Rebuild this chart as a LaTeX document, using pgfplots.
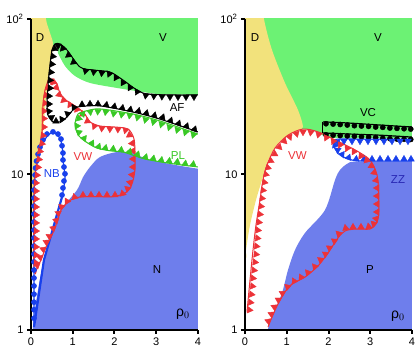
\documentclass[border=0pt]{standalone}
\usepackage{pgfplots}
\pgfplotsset{compat=1.18}
\usepackage{fontspec}
\setmainfont{Liberation Sans}

\definecolor{cgreen}{RGB}{108,242,116}
\definecolor{cyellow}{RGB}{242,226,124}
\definecolor{cblue}{RGB}{110,126,236}
\definecolor{tred}{RGB}{236,50,56}
\definecolor{tgreen}{RGB}{56,200,36}
\definecolor{tblue}{RGB}{24,64,236}
\definecolor{zzblue}{RGB}{40,40,180}

\tikzset{
  lab/.style={font=\fontsize{11.5}{13}\selectfont},
  bigl/.style={font=\fontsize{14}{14}\selectfont},
}
\pgfplotsset{
  mytrimk/.style={only marks, scatter, point meta=x, mark=triangle*, mark size=3.8pt,
    scatter/use mapped color={draw=#1, fill=#1},
    visualization depends on={value \thisrow{a} \as \myang},
    scatter/@pre marker code/.append style={/tikz/rotate=\myang, /tikz/yshift=1.9pt}},
  mycircmk/.style={only marks, mark=*, mark size=2.6pt, color=#1},
}

\begin{document}
\begin{tikzpicture}
\useasboundingbox (0,0) rectangle (416pt,355pt);

% ---------------- panel (a)
\begin{axis}[
    at={(31pt,25pt)}, anchor=south west,
    scale only axis, width=167pt, height=311pt,
    ymode=log, xmin=0, xmax=4, ymin=1, ymax=100,
    axis x line*=bottom, axis y line*=left,
    axis line style={line width=2.5pt},
    xtick={0,1,2,3,4}, ytick={1,10,100}, yticklabels={1,10,10\textsuperscript{2}},
    yminorticks=false,
    tick align=outside, major tick length=4pt,
    tick style={line width=2pt, black},
    /pgf/number format/assume math mode=true,
    ticklabel style={font=\fontsize{11}{12}\selectfont},
    axis on top]
\addplot[fill=cgreen, draw=none, smooth, tension=0.5] coordinates {
(-0.5,200) (-0.5,68.0) (0.551,68.0) (0.647,60.4) (0.814,49.9) (1.054,43.0) (1.413,38.8) (2.060,36.0) (2.683,33.9) (3.090,32.9) (4,32.5) (4.5,32.5) (4.5,200) (-0.5,200)};
\addplot[fill=cyellow, draw=none, smooth, tension=0.5] coordinates {
(-0.5,150) (0.30,150) (0.359,100) (0.431,85.0) (0.527,70.1) (0.503,58.7) (0.407,40.5) (0.335,26.0) (0.263,16.7) (0.168,12.4) (0.096,9.93) (0.048,6.85) (0.024,3.79) (0,2.82) (-0.5,2) (-0.5,150)};
\addplot[fill=cblue, draw=none, smooth, tension=0.5] coordinates {
(0.02,0.5) (4.5,0.5) (4.5,10.9) (4,10.9) (2.850,12.4) (2.443,13.75) (2.060,13.95) (1.653,12.96) (1.413,11.17) (1.245,9.6) (1.102,7.95) (0.766,6.18) (0.575,4.95) (0.335,3.03) (0.168,1.81) (0.048,1.045) (0.02,0.5)};

% NB (blue)
\addplot[tblue, line width=2.2pt] coordinates {(0.072,1.045) (0.31,2.82) (0.55,4.73) (0.743,7.17)};
\addplot[tblue, line width=1.2pt, smooth, tension=0.5] coordinates {
(0.527,18.8) (0.407,17.9) (0.287,15.9) (0.168,12.77) (0.096,9.93) (0.072,6.85) (0.072,3.27) (0.072,1.81) (0.072,1.08)};
\addplot[tblue, line width=1.2pt, smooth, tension=0.5] coordinates {
(0.743,7.17) (0.814,9.49) (0.766,12.4) (0.743,15.5) (0.647,17.9) (0.527,18.8)};
\addplot[mycircmk=tblue] table {
x y
0.527 18.8
0.383 18.2
0.287 16.7
0.216 15.0
0.168 13.5
0.132 12.2
0.108 11.0
0.096 9.93
0.084 8.95
0.072 7.95
0.072 7.06
0.072 6.27
0.072 5.57
0.072 4.95
0.072 4.40
0.072 3.91
0.072 3.47
0.072 3.08
0.072 2.74
0.072 2.43
0.072 2.16
0.072 1.92
0.072 1.70
0.072 1.51
0.072 1.35
0.072 1.19
0.647 18.2
0.719 16.9
0.743 15.3
0.766 13.75
0.766 12.4
0.790 11.17
0.814 10.1
0.790 9.08
0.766 8.19
0.743 7.38
};

% VW (red)
\addplot[tred, line width=1pt, smooth, tension=0.5] coordinates {
(0.407,39.9) (0.335,34.9) (0.287,28.0) (0.263,18.5) (0.168,13.3) (0.096,9.93) (0.065,6.85) (0.065,4.08) (0.065,2.7) (0.10,2.3) (0.144,2.5) (0.240,2.82) (0.359,3.42) (0.503,4.08) (0.623,4.95) (0.719,5.91) (0.886,6.66) (1.054,7.06) (1.293,7.2) (1.653,7.2) (1.964,7.2) (2.251,7.6) (2.41,8.56) (2.49,10.7) (2.49,14.4) (2.46,17.2) (2.323,19.6) (2.012,20.2) (1.653,20.5) (1.413,21.8) (1.269,24.9) (1.054,27.6) (0.838,30.1) (0.695,33.4) (0.623,38.2) (0.527,41.1) (0.407,39.9)};
\addplot[mytrimk=tred] table {
x y a
0.359 36.5 252
0.311 32.5 262
0.287 28.8 266
0.263 25.6 270
0.263 22.9 270
0.263 20.2 270
0.240 17.9 263
0.216 15.9 260
0.168 14.2 260
0.144 12.58 262
0.120 11.17 265
0.096 9.93 266
0.072 8.82 270
0.072 7.83 270
0.072 6.96 270
0.072 6.18 270
0.072 5.49 270
0.072 4.88 270
0.072 4.33 270
0.072 3.85 270
0.072 3.42 270
0.072 3.03 270
0.072 2.70 270
0.192 2.58 70
0.263 2.90 70
0.335 3.27 68
0.407 3.63 63
0.479 3.96 63
0.575 4.46 69
0.647 5.02 72
0.695 5.57 65
0.766 6.09 49
0.886 6.56 30
1.054 6.96 15
1.245 7.17 0
1.437 7.17 0
1.629 7.17 0
1.820 7.17 0
2.012 7.17 0
2.204 7.33 14
2.347 7.95 49
2.419 8.82 75
2.467 9.93 85
2.491 11.17 90
2.491 12.58 90
2.491 14.2 90
2.467 15.9 95
2.395 18.2 124
2.275 19.8 165
2.084 20.1 178
1.892 20.2 178
1.701 20.4 175
1.533 21.0 158
1.389 22.4 124
1.269 24.9 127
1.126 26.8 142
0.958 28.8 146
0.814 30.6 131
0.719 32.9 108
0.647 36.5 105
0.575 39.9 129
0.479 40.8 190
};

% AF (black)
\addplot[black, line width=1pt, smooth, tension=0.5] coordinates {
(4,32.5) (3.329,32.5) (2.683,33.4) (2.204,40.5) (1.892,45.6) (1.485,47.0) (1.174,49.1) (0.862,63.2) (0.695,69.1) (0.575,69.1) (0.503,63.2) (0.455,50.6) (0.407,37.6) (0.383,28.0) (0.407,24.1) (0.527,21.8) (0.695,21.8) (0.838,23.1) (0.982,25.6) (1.126,27.2) (1.653,27.6) (2.443,25.2) (3.090,22.7) (4,18.8)};
\addplot[mytrimk=black] table {
x y a
3.904 32.5 180
3.713 32.5 180
3.521 32.5 180
3.329 32.5 180
3.138 32.7 178
2.946 32.9 177
2.754 33.2 172
2.563 34.9 152
2.395 37.1 150
2.228 39.9 148
2.060 43.0 148
1.892 45.6 158
1.701 46.3 173
1.509 47.0 173
1.317 47.7 167
1.054 53.7 127
0.934 59.6 127
0.790 66.1 139
0.647 69.1 180
0.527 65.1 243
0.479 57.8 262
0.455 51.4 265
0.431 45.6 265
0.407 40.5 266
0.407 36.0 267
0.383 32.0 268
0.383 28.4 270
0.383 25.4 276
0.455 22.9 305
0.599 21.4 0
0.766 22.1 34
0.910 24.1 49
1.054 26.4 34
1.222 27.4 0
1.413 27.6 0
1.605 27.6 0
1.796 27.2 -10
1.988 26.6 -10
2.180 26.0 -10
2.371 25.4 -10
2.563 24.9 -14
2.754 24.1 -14
2.946 23.3 -14
3.138 22.7 -19
3.329 21.6 -19
3.521 20.7 -19
3.713 19.9 -19
3.904 19.0 -19
};

% PL (green)
\addplot[tgreen, line width=1pt, smooth, tension=0.5] coordinates {
(4,18.2) (3.090,22.1) (2.443,24.5) (1.653,26.4) (1.317,25.6) (1.126,24.5) (1.054,20.8) (1.150,17.7) (1.365,15.9) (1.581,14.8) (1.892,14.2) (2.204,13.95) (2.443,13.3) (2.731,12.58) (3.257,11.86) (4,11.17)};
\addplot[mytrimk=tgreen] table {
x y a
3.904 18.5 162
3.713 19.2 162
3.521 19.9 162
3.329 20.7 162
3.138 21.6 163
2.946 22.4 165
2.754 23.1 165
2.563 23.96 166
2.371 24.7 171
2.180 25.0 171
1.988 25.4 171
1.796 26.0 171
1.605 26.2 175
1.413 26.0 188
1.222 25.2 200
1.102 23.1 255
1.054 20.5 272
1.102 18.5 290
1.245 16.7 322
1.437 15.5 331
1.605 14.7 340
1.772 14.4 347
1.964 14.2 355
2.156 13.95 355
2.347 13.65 343
2.539 13.1 342
2.731 12.58 342
2.922 12.3 350
3.114 12.03 350
3.305 11.86 353
3.497 11.7 353
3.689 11.4 353
3.880 11.3 353
};

\node[lab] at (axis cs:0.216,75.5) {D};
\node[lab] at (axis cs:3.16,75.5) {V};
\node[lab] at (axis cs:3.50,26.8) {AF};
\node[lab, text=tgreen] at (axis cs:3.52,13.3) {PL};
\node[lab, text=tred] at (axis cs:1.245,12.96) {VW};
\node[lab, text=tblue] at (axis cs:0.50,10.2) {NB};
\node[lab] at (axis cs:3.02,2.43) {N};
\node[bigl] at (axis description cs:-0.096,0.942) {τ};
\node[bigl] at (axis description cs:0.91,0.05) {ρ$_0$};
\node[lab] at (axis description cs:0.515,1.036) {(a)};
\end{axis}

% ---------------- panel (b)
\begin{axis}[
    at={(245pt,25pt)}, anchor=south west,
    scale only axis, width=167pt, height=311pt,
    ymode=log, xmin=0, xmax=4, ymin=1, ymax=100,
    axis x line*=bottom, axis y line*=left,
    axis line style={line width=2.5pt},
    xtick={0,1,2,3,4}, ytick={1,10,100}, yticklabels={1,10,10\textsuperscript{2}},
    yminorticks=false,
    tick align=outside, major tick length=4pt,
    tick style={line width=2pt, black},
    /pgf/number format/assume math mode=true,
    ticklabel style={font=\fontsize{11}{12}\selectfont},
    axis on top]
\addplot[fill=cgreen, draw=none, smooth, tension=0.5] coordinates {
(-0.5,200) (4.5,200) (4.5,17.2) (4,17.2) (2.108,17.2) (1.749,18.8) (1.389,19.6) (0.5,19.6) (-0.5,19.6) (-0.5,200)};
\addplot[fill=cyellow, draw=none, smooth, tension=0.5] coordinates {
(-0.5,150) (0.40,150) (0.455,100) (0.647,63.2) (0.958,38.8) (1.269,26.0) (1.389,20.2) (1.269,19.3) (0.958,17.4) (0.719,15.0) (0.527,11.86) (0.407,9.22) (0.263,6.85) (0.120,4.73) (0.024,3.27) (0,2.82) (-0.5,2) (-0.5,150)};
\addplot[fill=cblue, draw=none, smooth, tension=0.5] coordinates {
(0.52,0.5) (4.5,0.5) (4.5,12.1) (4,12.1) (2.683,12.1) (2.467,11.8) (2.275,10.7) (2.156,9.22) (1.916,5.91) (1.437,4.21) (1.198,3.27) (1.030,2.43) (0.886,1.73) (0.647,1.21) (0.551,1) (0.52,0.5)};

% VC (black)
\addplot[black, line width=1pt] coordinates {(1.868,21.8) (1.868,18.5)};
\addplot[black, line width=1.2pt, smooth, tension=0.5] coordinates {
(1.868,21.8) (2.515,21.4) (3.234,20.8) (4,20.2)};
\addplot[black, line width=1.2pt, smooth, tension=0.5] coordinates {
(1.868,18.5) (2.515,18.2) (3.234,17.9) (4,17.4)};
\addplot[mycircmk=black] table {
x y
1.94 21.2
2.11 21.1
2.28 20.96
2.45 20.8
2.62 20.6
2.79 20.5
2.96 20.4
3.13 20.2
3.30 20.1
3.47 19.9
3.64 19.8
3.81 19.7
3.97 19.6
1.94 18.0
2.11 17.9
2.28 17.8
2.45 17.7
2.62 17.6
2.79 17.5
2.96 17.4
3.13 17.3
3.30 17.1
3.47 17.0
3.64 16.9
3.81 16.85
3.97 16.8
};

% ZZ (blue)
\addplot[tblue, line width=1pt, smooth, tension=0.5] coordinates {
(4,16.9) (3.473,16.9) (2.802,16.9) (2.228,16.9) (2.108,16.2) (2.156,14.6) (2.323,13.15) (2.563,12.4) (2.874,12.2) (3.473,12.2) (4,12.2)};
\addplot[mytrimk=tblue] table {
x y a
3.904 16.9 180
3.713 16.9 180
3.521 16.9 180
3.329 16.9 180
3.138 16.9 180
2.946 16.9 180
2.754 16.9 180
2.563 16.9 180
2.371 16.9 180
2.204 16.7 190
2.108 15.5 260
2.180 14.2 296
2.299 13.15 324
2.467 12.5 340
2.659 12.2 355
2.850 12.2 0
3.042 12.2 0
3.234 12.2 0
3.425 12.2 0
3.617 12.2 0
3.808 12.2 0
3.976 12.2 0
};

% VW (red)
\addplot[tred, line width=1pt, smooth, tension=0.5] coordinates {
(0.048,1.31) (0.120,2.10) (0.192,3.27) (0.263,4.73) (0.359,6.85) (0.431,9.22) (0.527,11.5) (0.719,14.8) (1.030,17.9) (1.389,19.6) (1.749,18.8) (2.156,16.7) (2.635,14.4) (2.994,12.4) (3.162,9.93) (3.2,7.38) (3.2,5.49) (3.138,4.81) (2.994,4.46) (2.635,4.46) (2.395,4.33) (2.228,3.91) (1.988,3.13) (1.749,2.58) (1.437,2.19) (1.126,1.98) (0.958,1.76) (0.790,1.47) (0.647,1.21) (0.551,1.045)};
\addplot[mytrimk=tred] table {
x y a
0.060 1.35 263
0.084 1.51 263
0.108 1.70 263
0.132 1.92 263
0.144 2.16 263
0.168 2.43 263
0.192 2.74 263
0.216 3.08 263
0.228 3.47 263
0.251 3.91 263
0.263 4.40 263
0.287 4.95 263
0.311 5.57 263
0.335 6.27 263
0.359 7.06 263
0.383 7.95 263
0.419 8.95 260
0.455 10.1 255
0.503 11.17 252
0.575 12.4 245
0.671 13.75 240
0.790 15.3 225
0.910 16.7 225
1.054 17.9 202
1.222 18.8 195
1.389 19.3 180
1.581 19.2 172
1.772 18.6 165
1.964 17.7 155
2.132 16.8 155
2.299 15.9 153
2.467 15.1 153
2.635 14.4 150
2.802 13.45 145
2.946 12.58 135
3.066 11.5 118
3.138 10.4 110
3.186 9.22 100
3.210 8.19 90
3.210 7.27 90
3.210 6.46 90
3.210 5.74 90
3.186 5.17 80
3.114 4.73 45
2.970 4.49 10
2.778 4.46 0
2.587 4.46 0
2.419 4.40 11
2.275 4.08 45
2.180 3.68 56
2.060 3.32 56
1.964 3.03 56
1.844 2.78 52
1.701 2.50 40
1.533 2.29 40
1.365 2.13 28
1.198 2.01 28
1.054 1.86 49
0.934 1.70 60
0.838 1.54 60
0.743 1.39 65
0.671 1.25 65
0.599 1.13 70
};

\node[lab] at (axis cs:0.24,76) {D};
\node[lab] at (axis cs:3.187,76) {V};
\node[lab] at (axis cs:2.946,24.9) {VC};
\node[lab, text=tred] at (axis cs:1.257,13.3) {VW};
\node[lab, text=zzblue] at (axis cs:3.665,9.22) {ZZ};
\node[lab] at (axis cs:2.994,2.43) {P};
\node[bigl] at (axis description cs:-0.09,0.942) {τ};
\node[bigl] at (axis description cs:0.916,0.045) {ρ$_0$};
\node[lab] at (axis description cs:0.539,1.036) {(b)};
\end{axis}
\end{tikzpicture}
\end{document}
